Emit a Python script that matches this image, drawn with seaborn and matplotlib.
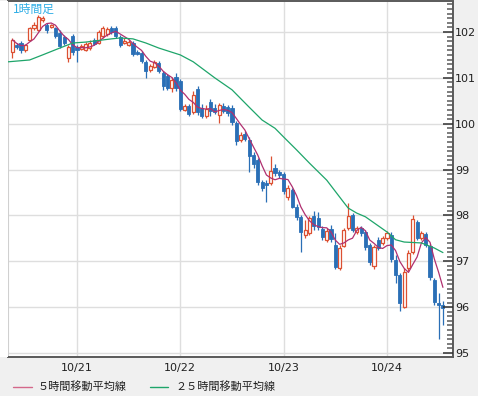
import matplotlib
matplotlib.use("Agg")
import matplotlib.pyplot as plt
import seaborn as sns
import numpy as np
import pandas as pd
from matplotlib.lines import Line2D
from matplotlib.patches import Rectangle
from matplotlib.ticker import MultipleLocator

# ============================================
# Data: 1-hour candles, x = hours from 10/21 00:00
# ============================================

hours = np.arange(-15, 86)

opens = [101.56, 101.72, 101.76, 101.61, 101.83, 102.09, 102.04, 102.26, 102.15, 102.11,
         102.09, 101.98, 101.89, 101.43, 101.91, 101.67, 101.63, 101.61, 101.65, 101.83,
         101.76, 101.91, 101.96, 102.09, 102.09, 101.89, 101.76, 101.72, 101.76, 101.56,
         101.54, 101.35, 101.17, 101.24, 101.32, 101.11, 101.04, 100.78, 101.02, 100.93,
         100.30, 100.39, 100.26, 100.76, 100.34, 100.17, 100.47, 100.34, 100.19, 100.39,
         100.37, 100.34, 100.02, 99.65, 99.78, 99.65, 99.32, 99.21, 98.73, 98.71,
         98.71, 99.03, 98.95, 98.90, 98.40, 98.55, 98.19, 97.97, 97.57, 97.62,
         97.99, 97.94, 97.70, 97.47, 97.70, 97.36, 96.85, 97.33, 97.73, 98.01,
         97.64, 97.73, 97.64, 97.36, 96.90, 97.47, 97.40, 97.51, 97.57, 97.03,
         96.70, 96.00, 96.85, 97.20, 97.86, 97.51, 97.60, 97.33, 96.59, 96.09,
         96.05]

closes = [101.83, 101.67, 101.61, 101.72, 102.09, 102.15, 102.33, 102.31, 102.04, 102.15,
          101.91, 101.70, 101.76, 101.67, 101.56, 101.61, 101.70, 101.74, 101.76, 101.74,
          102.00, 102.09, 102.07, 102.00, 101.91, 101.72, 101.80, 101.78, 101.52, 101.52,
          101.37, 101.15, 101.26, 101.35, 101.15, 100.82, 100.78, 100.95, 100.78, 100.32,
          100.39, 100.21, 100.63, 100.26, 100.17, 100.32, 100.28, 100.26, 100.41, 100.28,
          100.23, 100.04, 99.62, 99.75, 99.67, 99.30, 99.12, 98.73, 98.60, 98.66,
          98.97, 98.93, 98.88, 98.53, 98.60, 98.19, 97.97, 97.64, 97.68, 97.94,
          97.77, 97.75, 97.53, 97.66, 97.49, 96.88, 97.29, 97.68, 97.99, 97.68,
          97.73, 97.62, 97.31, 96.98, 97.31, 97.29, 97.51, 97.62, 97.05, 96.70,
          96.09, 96.77, 97.18, 97.92, 97.51, 97.62, 97.36, 96.66, 96.11, 96.05,
          95.98]

highs = [101.87, 101.76, 101.80, 101.74, 102.11, 102.22, 102.37, 102.35, 102.20, 102.17,
         102.11, 102.04, 101.93, 101.72, 101.96, 101.72, 101.74, 101.78, 101.83, 101.87,
         102.04, 102.13, 102.11, 102.13, 102.13, 101.93, 101.87, 101.83, 101.80, 101.61,
         101.59, 101.39, 101.30, 101.39, 101.37, 101.15, 101.08, 101.02, 101.11, 100.98,
         100.43, 100.43, 100.71, 100.82, 100.43, 100.41, 100.54, 100.43, 100.45, 100.45,
         100.41, 100.41, 100.06, 99.82, 99.84, 99.71, 99.38, 99.25, 98.77, 98.77,
         99.30, 99.12, 98.99, 98.95, 98.66, 98.60, 98.25, 98.01, 97.90, 97.99,
         98.10, 98.07, 97.77, 97.73, 97.79, 97.62, 97.36, 97.73, 98.27, 98.05,
         97.77, 97.77, 97.68, 97.40, 97.36, 97.53, 97.55, 97.66, 97.64, 97.14,
         96.74, 96.85, 97.25, 98.01, 97.90, 97.66, 97.64, 97.38, 96.63, 96.31,
         96.14]

lows = [101.43, 101.63, 101.54, 101.56, 101.80, 102.04, 102.02, 102.22, 101.98, 102.09,
        101.87, 101.65, 101.72, 101.35, 101.50, 101.35, 101.61, 101.59, 101.61, 101.72,
        101.74, 101.87, 101.91, 101.96, 101.87, 101.67, 101.74, 101.70, 101.48, 101.50,
        101.32, 101.00, 101.13, 101.22, 101.11, 100.74, 100.74, 100.69, 100.71, 100.28,
        100.28, 100.17, 100.21, 100.19, 100.13, 100.13, 100.17, 100.21, 100.02, 100.23,
        100.17, 99.97, 99.54, 99.60, 99.62, 98.95, 99.03, 98.66, 98.53, 98.29,
        98.66, 98.86, 98.82, 98.47, 98.34, 98.16, 97.90, 97.20, 97.51, 97.57,
        97.68, 97.68, 97.47, 97.42, 97.42, 96.83, 96.81, 97.31, 97.68, 97.64,
        97.60, 97.55, 97.25, 96.92, 96.83, 97.25, 97.36, 97.47, 96.98, 96.53,
        95.92, 95.98, 96.79, 97.16, 97.47, 97.47, 97.31, 96.59, 96.05, 95.31,
        95.61]

# 25-hour moving average (its earlier hours lie before the window)
ma25_hours = [-16, -11, -8, -4, -1, 2, 8, 10, 13, 16, 19, 24, 27, 32, 36, 40,
              43, 46, 48, 51, 54, 58, 62, 63, 65, 67, 72, 74, 76, 80, 83, 85]
ma25_values = [101.35, 101.39, 101.50, 101.65, 101.76, 101.78, 101.85, 101.87, 101.85,
               101.76, 101.65, 101.50, 101.35, 101.00, 100.74, 100.36, 100.08, 99.90,
               99.71, 99.43, 99.14, 98.77, 98.28, 98.16, 98.05, 97.97, 97.64, 97.47,
               97.42, 97.40, 97.29, 97.19]

day_ticks = [0, 24, 48, 72]
day_labels = ['10/21', '10/22', '10/23', '10/24']

TITLE = '1時間足'
LABEL_MA5 = '５時間移動平均線'
LABEL_MA25 = '２５時間移動平均線'

# Colors
COLOR_UP = '#dc5032'
COLOR_DOWN = '#2a6fb6'
COLOR_MA5 = '#b03070'
COLOR_MA5_LEGEND = '#d4688a'
COLOR_MA25 = '#1ea56a'
COLOR_TITLE = '#30aee6'
COLOR_BG = '#f0f0f0'

# ============================================
# Plot
# ============================================

sns.set_style("white")
plt.rcParams['font.family'] = ['DejaVu Sans']
CJK = ['Noto Sans CJK JP', 'DejaVu Sans']

W, H = 478, 396
fig = plt.figure(figsize=(W / 100, H / 100), dpi=100, facecolor=COLOR_BG)

px_left, px_right, px_top, px_bottom = 8, 453, 1.5, 356.5
ax = fig.add_axes([px_left / W, (H - px_bottom) / H,
                   (px_right - px_left) / W, (px_bottom - px_top) / H])
ax.set_facecolor('white')

# white strip holding the left ticks
fig.patches.append(Rectangle((0, (H - px_bottom) / H), px_left / W, (px_bottom - px_top) / H,
                             transform=fig.transFigure, facecolor='white',
                             edgecolor='none', zorder=0))

o = np.array(opens)
c = np.array(closes)
hi = np.array(highs)
lo = np.array(lows)
up = c >= o
body_lo = np.minimum(o, c)
body_h = np.maximum(np.abs(c - o), 0.012)

# wicks
ax.vlines(hours[up], lo[up], hi[up], color=COLOR_UP, lw=0.9, zorder=2)
ax.vlines(hours[~up], lo[~up], hi[~up], color=COLOR_DOWN, lw=0.9, zorder=2)
# bodies
ax.bar(hours[up], body_h[up], bottom=body_lo[up], width=0.72,
       facecolor='white', edgecolor=COLOR_UP, linewidth=0.9, zorder=3)
ax.bar(hours[~up], body_h[~up], bottom=body_lo[~up], width=0.72,
       facecolor=COLOR_DOWN, edgecolor=COLOR_DOWN, linewidth=0.6, zorder=3)

# moving averages
ma5 = pd.Series(closes).rolling(5, min_periods=1).mean()
sns.lineplot(x=hours, y=ma5.values, color=COLOR_MA5, lw=0.9, ax=ax, zorder=4)
sns.lineplot(x=ma25_hours, y=ma25_values, color=COLOR_MA25, lw=0.9, ax=ax, zorder=4)

ymin, ymax = 94.924, 102.665
ax.set_xlim(-16.03, 87.34)
ax.set_ylim(ymin, ymax)

ax.set_xticks(day_ticks)
ax.set_xticklabels(day_labels)
ax.yaxis.set_major_locator(MultipleLocator(1))
ax.yaxis.set_minor_locator(MultipleLocator(0.1))
ax.grid(True, which='major', color='#dedede', lw=1.0)
ax.set_axisbelow(True)
ax.set_xlabel('')
ax.set_ylabel('')

ax.tick_params(axis='x', length=0, pad=5, labelsize=8, labelcolor='#202020')
ax.tick_params(axis='y', which='major', left=True, right=False, direction='out',
               length=5.8, width=1.1, color='#303030', labelleft=False)
ax.tick_params(axis='y', which='minor', left=True, right=False, direction='out',
               length=4.3, width=1.1, color='#5a5a5a')

for side in ['top', 'bottom', 'right']:
    ax.spines[side].set_color('#5a5a5a')
    ax.spines[side].set_linewidth(1.4)
ax.spines['left'].set_color('#d0d0d0')
ax.spines['left'].set_linewidth(0.8)

# right-hand price scale
ax2 = ax.twinx()
ax2.set_ylim(ymin, ymax)
ax2.yaxis.set_major_locator(MultipleLocator(1))
ax2.yaxis.set_minor_locator(MultipleLocator(0.1))
ax2.tick_params(axis='y', which='major', right=True, direction='in', length=7.2,
                width=1.1, color='#303030', pad=1.5, labelsize=8, labelcolor='#202020')
ax2.tick_params(axis='y', which='minor', right=True, direction='in', length=4.3,
                width=1.1, color='#5a5a5a')
for spine in ax2.spines.values():
    spine.set_visible(False)

# title in the corner
fig.text(13 / W, 1 - 2.5 / H, TITLE, ha='left', va='top', fontsize=8.5,
         color=COLOR_TITLE, family=CJK)

# legend along the bottom
ly = (H - 387) / H
fig.add_artist(Line2D([13 / W, 32 / W], [ly, ly], color=COLOR_MA5_LEGEND, lw=1.0))
fig.text(38 / W, ly, LABEL_MA5, ha='left', va='center', fontsize=8,
         color='#202020', family=CJK)
fig.add_artist(Line2D([150 / W, 168 / W], [ly, ly], color=COLOR_MA25, lw=1.0))
fig.text(175 / W, ly, LABEL_MA25, ha='left', va='center', fontsize=8,
         color='#202020', family=CJK)

fig.savefig('out.png', dpi=100, facecolor=COLOR_BG)
